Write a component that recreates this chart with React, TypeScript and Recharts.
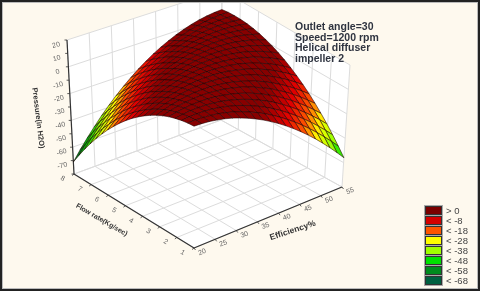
import { CSSProperties } from 'react'
import { Legend, Scatter, ScatterChart, XAxis, YAxis } from 'recharts'

const efficiencyTicks = [20, 25, 30, 35, 40, 45, 50, 55]
const flowTicks = [1, 2, 3, 4, 5, 6, 7, 8]
const pressureTicks = [20, 10, 0, -10, -20, -30, -40, -50, -60, -70]
const pressureGridLines = [20, 0, -20, -40, -60, -80]

const efficiencyMesh = [20, 21.75, 23.5, 25.25, 27, 28.75, 30.5, 32.25, 34, 35.75, 37.5, 39.25, 41, 42.75, 44.5, 46.25, 48, 49.75, 51.5, 53.25, 55]
const flowMesh = [1, 1.35, 1.7, 2.05, 2.4, 2.75, 3.1, 3.45, 3.8, 4.15, 4.5, 4.85, 5.2, 5.55, 5.9, 6.25, 6.6, 6.95, 7.3, 7.65, 8]

// pressure per efficiency step, one list per flow step
const flow00 = [7.0, 7.2, 7.1, 6.6, 5.8, 4.6, 3.0, 1.1, -1.2, -3.8, -6.8, -10.1, -13.8, -17.8, -22.2, -26.9, -32.0, -37.5, -43.3, -49.5, -56.0]
const flow01 = [6.8, 7.4, 7.6, 7.4, 7.0, 6.1, 4.9, 3.3, 1.4, -0.9, -3.5, -6.5, -9.8, -13.5, -17.5, -21.9, -26.7, -31.8, -37.3, -43.1, -49.3]
const flow02 = [6.2, 7.1, 7.7, 7.9, 7.8, 7.3, 6.4, 5.2, 3.6, 1.7, -0.6, -3.2, -6.2, -9.5, -13.2, -17.3, -21.7, -26.5, -31.6, -37.1, -42.9]
const flow03 = [5.2, 6.5, 7.4, 8.0, 8.2, 8.0, 7.5, 6.6, 5.4, 3.8, 1.9, -0.4, -3.0, -6.0, -9.4, -13.1, -17.1, -21.5, -26.3, -31.4, -36.9]
const flow04 = [3.9, 5.5, 6.8, 7.7, 8.2, 8.4, 8.2, 7.7, 6.8, 5.6, 4.0, 2.1, -0.2, -2.9, -5.9, -9.2, -12.9, -17.0, -21.4, -26.2, -31.3]
const flow05 = [2.1, 4.1, 5.7, 6.9, 7.8, 8.4, 8.6, 8.4, 7.9, 7.0, 5.8, 4.2, 2.2, -0.1, -2.7, -5.8, -9.1, -12.8, -16.9, -21.4, -26.1]
const flow06 = [0.0, 2.3, 4.2, 5.8, 7.1, 8.0, 8.5, 8.7, 8.5, 8.0, 7.1, 5.8, 4.2, 2.3, 0.0, -2.7, -5.7, -9.1, -12.8, -16.9, -21.3]
const flow07 = [-2.6, 0.1, 2.4, 4.3, 5.9, 7.2, 8.1, 8.6, 8.7, 8.6, 8.0, 7.1, 5.9, 4.3, 2.3, 0.0, -2.7, -5.7, -9.1, -12.8, -16.9]
const flow08 = [-5.5, -2.5, 0.2, 2.5, 4.4, 6.0, 7.2, 8.1, 8.6, 8.8, 8.6, 8.0, 7.1, 5.9, 4.3, 2.3, 0.0, -2.7, -5.8, -9.1, -12.9]
const flow09 = [-8.8, -5.5, -2.5, 0.2, 2.5, 4.4, 6.0, 7.2, 8.1, 8.6, 8.7, 8.5, 8.0, 7.1, 5.8, 4.2, 2.2, -0.1, -2.8, -5.9, -9.3]
const flow10 = [-12.5, -8.8, -5.5, -2.5, 0.2, 2.4, 4.4, 5.9, 7.1, 8.0, 8.5, 8.7, 8.4, 7.9, 7.0, 5.7, 4.1, 2.1, -0.3, -3.0, -6.0]
const flow11 = [-16.6, -12.6, -8.9, -5.5, -2.6, 0.1, 2.4, 4.3, 5.8, 7.0, 7.9, 8.4, 8.5, 8.3, 7.7, 6.8, 5.5, 3.9, 1.9, -0.5, -3.2]
const flow12 = [-21.1, -16.7, -12.7, -9.0, -5.6, -2.7, -0.1, 2.2, 4.1, 5.7, 6.9, 7.7, 8.2, 8.3, 8.1, 7.5, 6.6, 5.3, 3.7, 1.7, -0.7]
const flow13 = [-26.0, -21.2, -16.8, -12.8, -9.1, -5.8, -2.8, -0.2, 2.0, 3.9, 5.5, 6.7, 7.5, 8.0, 8.1, 7.9, 7.3, 6.3, 5.1, 3.4, 1.4]
const flow14 = [-31.2, -26.1, -21.4, -17.0, -13.0, -9.3, -6.0, -3.1, -0.5, 1.8, 3.7, 5.2, 6.4, 7.2, 7.7, 7.8, 7.6, 7.0, 6.0, 4.7, 3.1]
const flow15 = [-36.9, -31.5, -26.4, -21.6, -17.3, -13.3, -9.6, -6.3, -3.3, -0.8, 1.5, 3.4, 4.9, 6.1, 6.9, 7.4, 7.5, 7.2, 6.6, 5.7, 4.4]
const flow16 = [-42.9, -37.1, -31.7, -26.6, -21.9, -17.6, -13.6, -9.9, -6.6, -3.7, -1.1, 1.2, 3.0, 4.6, 5.7, 6.5, 7.0, 7.1, 6.9, 6.2, 5.3]
const flow17 = [-49.4, -43.2, -37.5, -32.0, -27.0, -22.3, -17.9, -13.9, -10.3, -7.0, -4.0, -1.5, 0.8, 2.6, 4.2, 5.3, 6.1, 6.6, 6.7, 6.4, 5.8]
const flow18 = [-56.2, -49.7, -43.6, -37.8, -32.4, -27.3, -22.6, -18.3, -14.3, -10.7, -7.4, -4.5, -1.9, 0.3, 2.2, 3.7, 4.9, 5.7, 6.1, 6.2, 5.9]
const flow19 = [-63.4, -56.6, -50.1, -44.0, -38.2, -32.8, -27.8, -23.1, -18.7, -14.8, -11.1, -7.9, -4.9, -2.4, -0.2, 1.7, 3.2, 4.3, 5.1, 5.6, 5.7]
const flow20 = [-71.0, -63.8, -57.0, -50.6, -44.4, -38.7, -33.3, -28.3, -23.6, -19.2, -15.3, -11.6, -8.4, -5.5, -2.9, -0.7, 1.2, 2.7, 3.8, 4.6, 5.0]
const pressureRows = [flow00, flow01, flow02, flow03, flow04, flow05, flow06, flow07, flow08, flow09, flow10, flow11, flow12, flow13, flow14, flow15, flow16, flow17, flow18, flow19, flow20]

const legendLabels = ['> 0', '< -8', '< -18', '< -28', '< -38', '< -48', '< -58', '< -68']
const legendColors = ['#7a0000', '#d40000', '#ff5500', '#ffff00', '#a0ff00', '#00e000', '#008a1e', '#006040']
const noteLines = ['Outlet angle=30', 'Speed=1200 rpm', 'Helical diffuser', 'impeller 2']

// colour stops for the surface, pressure at the middle of each legend band
const colorStops = [-2, -13, -23, -33, -43, -53, -63, -70]
const stopColors = ['#880000', '#e00000', '#ff5500', '#ffff00', '#a0ff00', '#00e000', '#008a1e', '#006040']

type Pt = { x: number; y: number }

// the eight corners of the plot box in chart space (front = low flow, low efficiency)
const box = {
  front: { x: 194, y: 248 }, right: { x: 342, y: 187 }, left: { x: 74, y: 174 }, back: { x: 221, y: 120 },
  frontTop: { x: 194, y: 108 }, rightTop: { x: 350, y: 65 }, leftTop: { x: 67, y: 40 }, backTop: { x: 222, y: -10 },
}

function mix(a: Pt, b: Pt, t: number): Pt {
  return { x: a.x + (b.x - a.x) * t, y: a.y + (b.y - a.y) * t }
}

function project(efficiency: number, flow: number, pressure: number): Pt {
  const u = (efficiency - 20) / 35
  const v = (flow - 1) / 7
  const w = (pressure + 80) / 100
  const floor = mix(mix(box.front, box.right, u), mix(box.left, box.back, u), v)
  const top = mix(mix(box.frontTop, box.rightTop, u), mix(box.leftTop, box.backTop, u), v)
  return mix(floor, top, w)
}

function hexToRgb(hex: string) {
  return [1, 3, 5].map(i => parseInt(hex.slice(i, i + 2), 16))
}

function surfaceColor(pressure: number): string {
  if (pressure >= colorStops[0]) return stopColors[0]
  for (let i = 1; i < colorStops.length; i++) {
    if (pressure >= colorStops[i]) {
      const t = (colorStops[i - 1] - pressure) / (colorStops[i - 1] - colorStops[i])
      const a = hexToRgb(stopColors[i - 1])
      const b = hexToRgb(stopColors[i])
      return `rgb(${a.map((c, k) => Math.round(c + (b[k] - c) * t)).join(',')})`
    }
  }
  return stopColors[stopColors.length - 1]
}

function face(corners: Pt[], fill: string) {
  return { ...corners[0], corners, fill }
}

function segment(a: Pt, b: Pt, stroke: string, strokeWidth: number) {
  return { ...a, end: b, stroke, strokeWidth }
}

// back walls and floor
const faces = [
  face([box.left, box.back, box.backTop, box.leftTop], '#ffffff'),
  face([box.right, box.back, box.backTop, box.rightTop], '#ffffff'),
  face([box.front, box.right, box.back, box.left], '#ffffff'),
]

const gridColor = '#dcdcdc'
const gridLines = [
  ...efficiencyTicks.flatMap(e => [
    segment(project(e, 1, -80), project(e, 8, -80), gridColor, 1),
    segment(project(e, 8, -80), project(e, 8, 20), gridColor, 1),
  ]),
  ...flowTicks.flatMap(f => [
    segment(project(20, f, -80), project(55, f, -80), gridColor, 1),
    segment(project(55, f, -80), project(55, f, 20), gridColor, 1),
  ]),
  ...pressureGridLines.flatMap(p => [
    segment(project(20, 8, p), project(55, 8, p), gridColor, 1),
    segment(project(55, 8, p), project(55, 1, p), gridColor, 1),
  ]),
]

// far cells first so the nearer ones paint over them
const cells: ReturnType<typeof face>[] = []
for (let j = flowMesh.length - 2; j >= 0; j--) {
  for (let i = efficiencyMesh.length - 2; i >= 0; i--) {
    const p = [pressureRows[j][i], pressureRows[j][i + 1], pressureRows[j + 1][i + 1], pressureRows[j + 1][i]]
    cells.push(face([
      project(efficiencyMesh[i], flowMesh[j], p[0]),
      project(efficiencyMesh[i + 1], flowMesh[j], p[1]),
      project(efficiencyMesh[i + 1], flowMesh[j + 1], p[2]),
      project(efficiencyMesh[i], flowMesh[j + 1], p[3]),
    ], surfaceColor((p[0] + p[1] + p[2] + p[3]) / 4)))
  }
}

const axisColor = '#333333'
const axisLines = [
  segment(project(20, 8, -80), project(20, 8, 20), axisColor, 1.2),
  segment(project(20, 1, -80), project(20, 8, -80), axisColor, 1.2),
  segment(project(20, 1, -80), project(55, 1, -80), axisColor, 1.2),
  ...efficiencyTicks.map(e => {
    const a = project(e, 1, -80)
    return segment(a, { x: a.x + 1.5, y: a.y + 2 }, axisColor, 0.8)
  }),
  ...flowTicks.map(f => {
    const a = project(20, f, -80)
    return segment(a, { x: a.x - 2, y: a.y + 1.5 }, axisColor, 0.8)
  }),
  ...[...pressureTicks, -80].map(p => {
    const a = project(20, 8, p)
    return segment(a, { x: a.x - 2.5, y: a.y }, axisColor, 0.8)
  }),
]

const tickLabels = [
  ...pressureTicks.map(p => {
    const a = project(20, 8, p)
    return { x: a.x - 11, y: a.y + 4.5, text: String(p), angle: -15 }
  }),
  ...flowTicks.map(f => {
    const a = project(20, f, -80)
    return { x: a.x - 11, y: a.y + 4, text: String(f), angle: 30 }
  }),
  ...efficiencyTicks.map(e => {
    const a = project(e, 1, -80)
    return { x: a.x + 8, y: a.y + 3.5, text: String(e), angle: -20 }
  }),
]

const axisTitles = [
  { x: 38.5, y: 118, text: 'Pressure(in H2O)', angle: 83, size: 7.5 },
  { x: 102, y: 219.5, text: 'Flow rate(Kg/sec)', angle: 30, size: 7 },
  { x: 292.5, y: 230, text: 'Efficiency%', angle: -18, size: 8.5 },
]

function CellShape({ cx, cy, payload }: any) {
  const points = payload.corners.map((p: Pt) => `${cx + p.x - payload.x},${cy + p.y - payload.y}`).join(' ')
  return <polygon points={points} fill={payload.fill} stroke="#1c0000" strokeWidth={0.55} strokeLinejoin="round" />
}

function FaceShape({ cx, cy, payload }: any) {
  const points = payload.corners.map((p: Pt) => `${cx + p.x - payload.x},${cy + p.y - payload.y}`).join(' ')
  return <polygon points={points} fill={payload.fill} />
}

function SegmentShape({ cx, cy, payload }: any) {
  return (
    <line
      x1={cx}
      y1={cy}
      x2={cx + payload.end.x - payload.x}
      y2={cy + payload.end.y - payload.y}
      stroke={payload.stroke}
      strokeWidth={payload.strokeWidth}
    />
  )
}

function TickShape({ cx, cy, payload }: any) {
  return (
    <text x={cx} y={cy} fontSize={7} fill="#666666" textAnchor="middle" dominantBaseline="central" transform={`rotate(${payload.angle} ${cx} ${cy})`}>
      {payload.text}
    </text>
  )
}

function TitleShape({ cx, cy, payload }: any) {
  return (
    <text x={cx} y={cy} fontSize={payload.size} fontWeight={700} fill="#333333" textAnchor="middle" dominantBaseline="central" transform={`rotate(${payload.angle} ${cx} ${cy})`}>
      {payload.text}
    </text>
  )
}

function LegendBands() {
  return (
    <div style={{ fontFamily: 'Liberation Sans', fontSize: 9.5, color: '#444' }}>
      {legendLabels.map((label, i) => (
        <div key={label} style={{ display: 'flex', alignItems: 'center', height: 9.9 }}>
          <div style={{ width: 15, height: 7, marginRight: 4, background: legendColors[i], border: '1px solid #333', outline: '1px solid #aaa' }} />
          <span>{label}</span>
        </div>
      ))}
    </div>
  )
}

const frameStyle: CSSProperties = {
  position: 'absolute', inset: 0, boxSizing: 'border-box', border: '2px solid #222', boxShadow: 'inset 0 0 0 1px #bbb', pointerEvents: 'none',
}

export default function App() {
  return (
    <div style={{ position: 'relative', width: 480, height: 291, overflow: 'hidden', background: '#fef9ee', fontFamily: 'Liberation Sans' }}>
      <style>{'body{margin:0}'}</style>
      {/* the reference is a soft, resampled picture */}
      <div style={{ filter: 'blur(0.45px)' }}>
        <ScatterChart width={480} height={291} margin={{ top: 0, right: 0, bottom: 0, left: 0 }}>
          <XAxis type="number" dataKey="x" domain={[0, 480]} allowDataOverflow hide />
          <YAxis type="number" dataKey="y" domain={[0, 291]} allowDataOverflow reversed hide />
          <Legend
            layout="horizontal"
            verticalAlign="middle"
            align="center"
            wrapperStyle={{ left: 425, top: 206, width: 55 }}
            content={LegendBands}
          />
          <Scatter data={faces} shape={FaceShape} isAnimationActive={false} />
          <Scatter data={gridLines} shape={SegmentShape} isAnimationActive={false} />
          <Scatter data={axisLines} shape={SegmentShape} isAnimationActive={false} />
          <Scatter data={cells} shape={CellShape} isAnimationActive={false} />
          <Scatter data={tickLabels} shape={TickShape} isAnimationActive={false} />
          <Scatter data={axisTitles} shape={TitleShape} isAnimationActive={false} />
        </ScatterChart>
        <div style={{ position: 'absolute', left: 295, top: 21, fontSize: 10.5, lineHeight: '10.6px', fontWeight: 700, color: '#2f3440' }}>
          {noteLines.map(line => <div key={line}>{line}</div>)}
        </div>
      </div>
      <div style={frameStyle} />
    </div>
  )
}
